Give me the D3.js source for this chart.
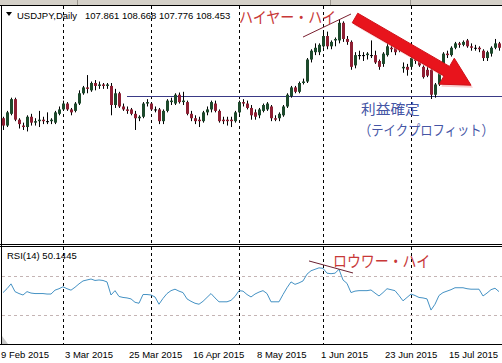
<!DOCTYPE html>
<html>
<head>
<meta charset="utf-8">
<script src="https://cdn.jsdelivr.net/npm/d3@7"></script>
<style>
body { margin:0; background:#fff; }
svg { display:block; font-family:"Liberation Sans", Arial, sans-serif; }
</style>
</head>
<body>
<div id="viz"></div>
<script>
// daily bars, 9 Feb 2015 .. 31 Jul 2015 (bar index = position)
var opens  = [119.1,118.6,119.4,120.4,119.0,118.6,118.5,119.2,118.8,118.9,119.0,118.9,118.9,118.8,119.4,119.7,120.1,119.7,119.6,120.1,
              120.8,121.2,121.0,121.5,121.3,121.4,121.3,121.3,120.0,120.8,119.9,119.7,119.7,119.4,119.1,119.2,120.1,120.1,119.7,119.7,
              118.9,119.6,120.2,120.1,120.7,120.2,120.2,119.4,119.1,119.0,118.9,119.5,119.7,120.1,119.6,119.0,119.0,119.0,118.9,119.5,
              120.2,120.1,119.8,119.5,119.3,119.6,119.7,119.9,119.1,119.1,119.3,119.9,120.6,121.2,120.9,121.5,121.6,123.1,123.6,123.6,
              124.0,124.7,124.0,124.4,124.4,125.6,124.5,124.3,122.7,123.4,123.4,123.4,123.4,123.4,123.0,122.8,123.4,123.9,123.9,123.8,
              122.5,122.6,122.6,123.2,123.1,122.6,122.4,122.4,120.7,121.4,122.8,123.5,123.4,123.9,124.2,124.1,124.4,124.0,123.9,123.9,
              123.7,123.2,123.5,123.9,124.2];
var highs  = [119.2,119.6,120.5,120.5,119.1,118.8,119.3,119.4,119.1,119.6,119.2,119.5,119.1,119.6,119.9,120.3,120.2,119.8,120.2,121.0,
              121.3,122.04,121.6,121.7,121.6,121.5,121.5,121.5,121.1,120.9,120.1,119.9,119.8,119.6,119.3,120.2,120.4,120.2,119.9,119.8,
              119.7,120.4,120.5,120.8,120.85,120.9,120.3,119.6,119.3,119.2,119.6,119.9,120.3,120.3,119.7,119.2,119.2,119.2,119.6,120.3,
              120.4,120.3,120.0,119.7,119.8,120.1,120.2,120.0,119.3,119.5,120.0,120.8,121.3,121.3,121.6,121.8,123.2,123.8,124.2,124.2,
              125.0,125.0,124.4,124.6,125.86,125.7,124.7,124.4,123.6,123.7,123.6,123.6,124.4,123.7,123.1,123.6,124.5,124.1,124.0,124.0,
              122.9,122.8,123.3,123.4,123.2,122.7,122.6,122.6,121.5,123.0,123.6,123.7,124.0,124.3,124.3,124.4,124.5,124.2,124.1,124.0,
              123.8,123.7,124.0,124.5,124.3];
var lows   = [118.3,118.5,119.3,118.9,118.4,118.3,118.2,118.6,118.6,118.5,118.7,118.7,118.7,118.7,119.3,119.6,119.6,119.3,119.5,120.0,
              120.7,120.8,120.9,121.0,121.1,121.1,121.1,119.3,119.8,119.8,119.6,119.4,119.3,118.3,118.9,119.1,119.9,119.6,119.5,118.7,
              118.7,119.5,120.0,120.0,120.1,120.0,119.3,118.9,118.7,118.5,118.8,119.3,119.5,119.5,118.8,118.7,118.6,118.5,118.8,119.4,
              119.9,119.7,119.0,119.0,119.1,119.5,119.6,118.9,118.9,118.9,119.2,119.8,120.5,120.8,120.8,121.4,121.5,122.9,123.4,123.4,
              123.9,123.8,123.8,124.0,124.2,124.3,124.1,122.4,122.5,123.1,123.0,123.1,123.2,122.8,122.4,122.6,123.3,123.6,123.4,123.6,
              122.2,122.0,122.4,122.8,122.6,121.8,121.9,120.41,120.5,121.3,122.6,123.2,123.3,123.8,123.9,124.0,123.9,123.7,123.7,123.6,
              123.0,123.0,123.3,123.8,123.7];
var closes = [118.6,119.5,120.4,119.0,118.7,118.5,119.2,118.8,118.9,119.0,118.9,118.9,119.0,119.5,119.7,120.1,119.7,119.5,120.1,120.8,
              121.2,121.1,121.5,121.3,121.4,121.3,121.4,120.0,120.8,119.9,119.7,119.6,119.4,119.1,119.2,120.1,120.2,119.7,119.7,118.9,
              119.6,120.3,120.3,120.7,120.2,120.3,119.4,119.1,118.9,118.9,119.5,119.7,120.2,119.6,118.9,118.9,118.9,118.9,119.5,120.2,
              120.1,119.8,119.3,119.2,119.7,120.0,120.1,119.1,119.0,119.4,119.9,120.7,121.2,120.9,121.5,121.6,123.1,123.7,123.9,124.1,
              124.7,124.0,124.3,124.5,125.6,124.5,124.3,122.6,123.4,123.4,123.4,123.5,123.4,122.9,122.6,123.5,124.0,123.8,123.6,123.8,
              122.6,122.4,123.2,123.0,122.7,121.9,122.0,120.7,121.4,122.9,123.5,123.4,123.9,124.2,124.1,124.3,124.0,123.9,123.9,123.8,
              123.2,123.6,123.9,124.2,123.9];
var rsi = [53,57,62,54,52,50.5,54,52.5,52,52,52,51.5,51.5,55.5,57,59,57,55.5,58.5,62,
           65,66,67,65.5,66,65.5,64,50.5,55,49,48,47.5,46.5,43,42,51,51,50.5,48.5,41,
           47,52,55,56.5,54.5,53,46.5,44,42,41,44,48,52,47.5,43.5,43.5,43.5,45,49,55,
           54.5,51,48.5,51.5,53.5,55,52,43.5,43.5,43.5,51,58,64,61.5,63,65,72,75.5,77,78.5,
           78,73,72.5,73,77,66,62.5,53,54.5,55,55,55,55.7,52.5,49.5,53,57,56,55,50,
           44.5,48,51.5,50,48,47.5,46.5,35,41,50,53,54.5,56,58,58,58,57,56.5,56.5,56.5,
           49.5,52.5,56,57.5,54];
var tickIdx = [0,16,32,48,64,80,96,112];
var tickLabels = ["9 Feb 2015","3 Mar 2015","25 Mar 2015","16 Apr 2015","8 May 2015","1 Jun 2015","23 Jun 2015","15 Jul 2015"];
var monthSep = [15,37,59,80,102];
var rsiLevels = [30,70];
var takeProfit = 120.62, tpStart = 31;
var higherHighLine = [[75,124.63],[87,126.2]];
var arrowLine = [[88,125.93],[117,121.35]];
var lowerHighLine = [[76.5,85.6],[87.5,73.2]];

var W = 502, H = 363;
var svg = d3.select('#viz').append('svg').attr('width',W).attr('height',H);
svg.append('rect').attr('width',W).attr('height',H).attr('fill','#fff');
svg.append('rect').attr('width',W).attr('height',5).attr('fill','#d4d0c8');
[77,330,410].forEach(function(x){
	svg.append('line').attr('x1',x+0.5).attr('x2',x+0.5).attr('y1',0).attr('y2',5).attr('stroke','#9a968e');
});

var x = d3.scaleLinear().domain([0,1]).range([3,7]);
var y = d3.scaleLinear().domain([120.41,125.86]).range([99,19]);
var yr = d3.scaleLinear().domain([0,100]).range([344,247]);

// panel frames
var hline = function(yy){ svg.append('line').attr('x1',0).attr('x2',W).attr('y1',yy).attr('y2',yy).attr('stroke','#000'); };
hline(5.5); hline(244.5); hline(246.5); hline(344.5);
svg.append('line').attr('x1',1.5).attr('x2',1.5).attr('y1',5).attr('y2',345).attr('stroke','#000');
svg.append('path').attr('d','M2,336 L8,344 L2,344 Z').attr('fill','#c8c8c8');

// month separators
monthSep.forEach(function(i){
	[[6,244],[247,344]].forEach(function(r){
		svg.append('line').attr('x1',x(i)+0.5).attr('x2',x(i)+0.5).attr('y1',r[0]).attr('y2',r[1])
			.attr('stroke','#000').attr('stroke-dasharray','3,3');
	});
});

// rsi levels
rsiLevels.forEach(function(v){
	svg.append('line').attr('x1',2).attr('x2',W).attr('y1',Math.round(yr(v))+0.5).attr('y2',Math.round(yr(v))+0.5)
		.attr('stroke','#c4b4b4').attr('stroke-dasharray','3,3');
});

// take profit level
svg.append('line').attr('x1',x(tpStart)).attr('x2',W).attr('y1',Math.round(y(takeProfit))+0.5).attr('y2',Math.round(y(takeProfit))+0.5)
	.attr('stroke','#3a3a86');

// candles
var idx = d3.range(opens.length);
var cg = svg.append('g');
cg.selectAll('.wick').data(idx).enter().append('line')
	.attr('x1',function(i){return x(i)+0.5}).attr('x2',function(i){return x(i)+0.5})
	.attr('y1',function(i){return y(highs[i])}).attr('y2',function(i){return y(lows[i])})
	.attr('stroke','#000');
cg.selectAll('.body').data(idx).enter().append('rect')
	.attr('x',function(i){return x(i)-1}).attr('width',3)
	.attr('y',function(i){return y(Math.max(opens[i],closes[i]))})
	.attr('height',function(i){return Math.max(1, Math.abs(y(opens[i])-y(closes[i])))})
	.attr('fill',function(i){
		if (Math.abs(opens[i]-closes[i])<0.05) return '#000';
		return closes[i]>opens[i] ? '#1d4a2c' : '#8e1f33';
	});

// rsi line
var rsiLine = d3.line().x(function(d,i){return x(i)}).y(function(d){return yr(d)});
svg.append('path').datum(rsi).attr('d',rsiLine).attr('fill','none').attr('stroke','#4592c4').attr('stroke-width',1);

// header texts
svg.append('path').attr('d','M6,12 L12,12 L9,16 Z').attr('fill','#000');
svg.append('text').attr('x',17).attr('y',19).attr('font-size','9.5px').text('USDJPY,Daily');
svg.append('text').attr('x',85).attr('y',19).attr('font-size','9.5px').text('107.861 108.668 107.776 108.453');
svg.append('text').attr('x',7).attr('y',259).attr('font-size','9.5px').text('RSI(14) 50.1445');

// bottom axis
svg.selectAll('.tl').data(tickIdx).enter().append('text')
	.attr('x',function(i){return x(i)-2}).attr('y',358).attr('font-size','9.5px').attr('fill','#000')
	.text(function(d,k){return tickLabels[k]});

// annotations
var pt = function(p){ return [x(p[0]), y(p[1])]; };
svg.append('line').attr('x1',pt(higherHighLine[0])[0]).attr('y1',pt(higherHighLine[0])[1])
	.attr('x2',pt(higherHighLine[1])[0]).attr('y2',pt(higherHighLine[1])[1]).attr('stroke','#7a2030');
svg.append('line').attr('x1',x(lowerHighLine[0][0])).attr('y1',yr(lowerHighLine[0][1]))
	.attr('x2',x(lowerHighLine[1][0])).attr('y2',yr(lowerHighLine[1][1])).attr('stroke','#6a2030');

// red arrow
var a0 = pt(arrowLine[0]), a1 = pt(arrowLine[1]);
var dx = a1[0]-a0[0], dy = a1[1]-a0[1], len = Math.sqrt(dx*dx+dy*dy);
var ux = dx/len, uy = dy/len, nx = -uy, ny = ux;
var sw = 5.5, hw = 15, hl = 28;
var bx = a1[0]-ux*hl, by = a1[1]-uy*hl;
var arrowPts = [
	[a0[0]+nx*sw, a0[1]+ny*sw], [bx+nx*sw, by+ny*sw], [bx+nx*hw, by+ny*hw], a1,
	[bx-nx*hw, by-ny*hw], [bx-nx*sw, by-ny*sw], [a0[0]-nx*sw, a0[1]-ny*sw]
];
svg.append('polygon').attr('points',arrowPts.map(function(p){return (p[0]+2)+','+(p[1]+2.5)}).join(' '))
	.attr('fill','#f2a8a8').attr('opacity',0.55);
svg.append('polygon').attr('points',arrowPts.map(function(p){return p.join(',')}).join(' '))
	.attr('fill','#e8141c').attr('stroke','#d01018').attr('stroke-linejoin','round');

// japanese notes, squeezed horizontally like the original font
var jp = '"Noto Sans CJK JP", sans-serif';
var note = function(tx, ty, sx, size, color, str) {
	svg.append('text').attr('transform','translate('+tx+','+ty+') scale('+sx+',1)')
		.attr('font-family',jp).attr('font-size',size+'px').attr('fill',color).text(str);
};
note(239, 23, 0.875, 16, '#c83838', 'ハイヤー・ハイ');
note(333, 267, 0.87, 16, '#c83838', 'ロウワー・ハイ');
note(361, 114, 1.05, 14, '#4555a5', '利益確定');
note(359, 135, 0.88, 14, '#4555a5', '（テイクプロフィット）');
</script>
</body>
</html>
